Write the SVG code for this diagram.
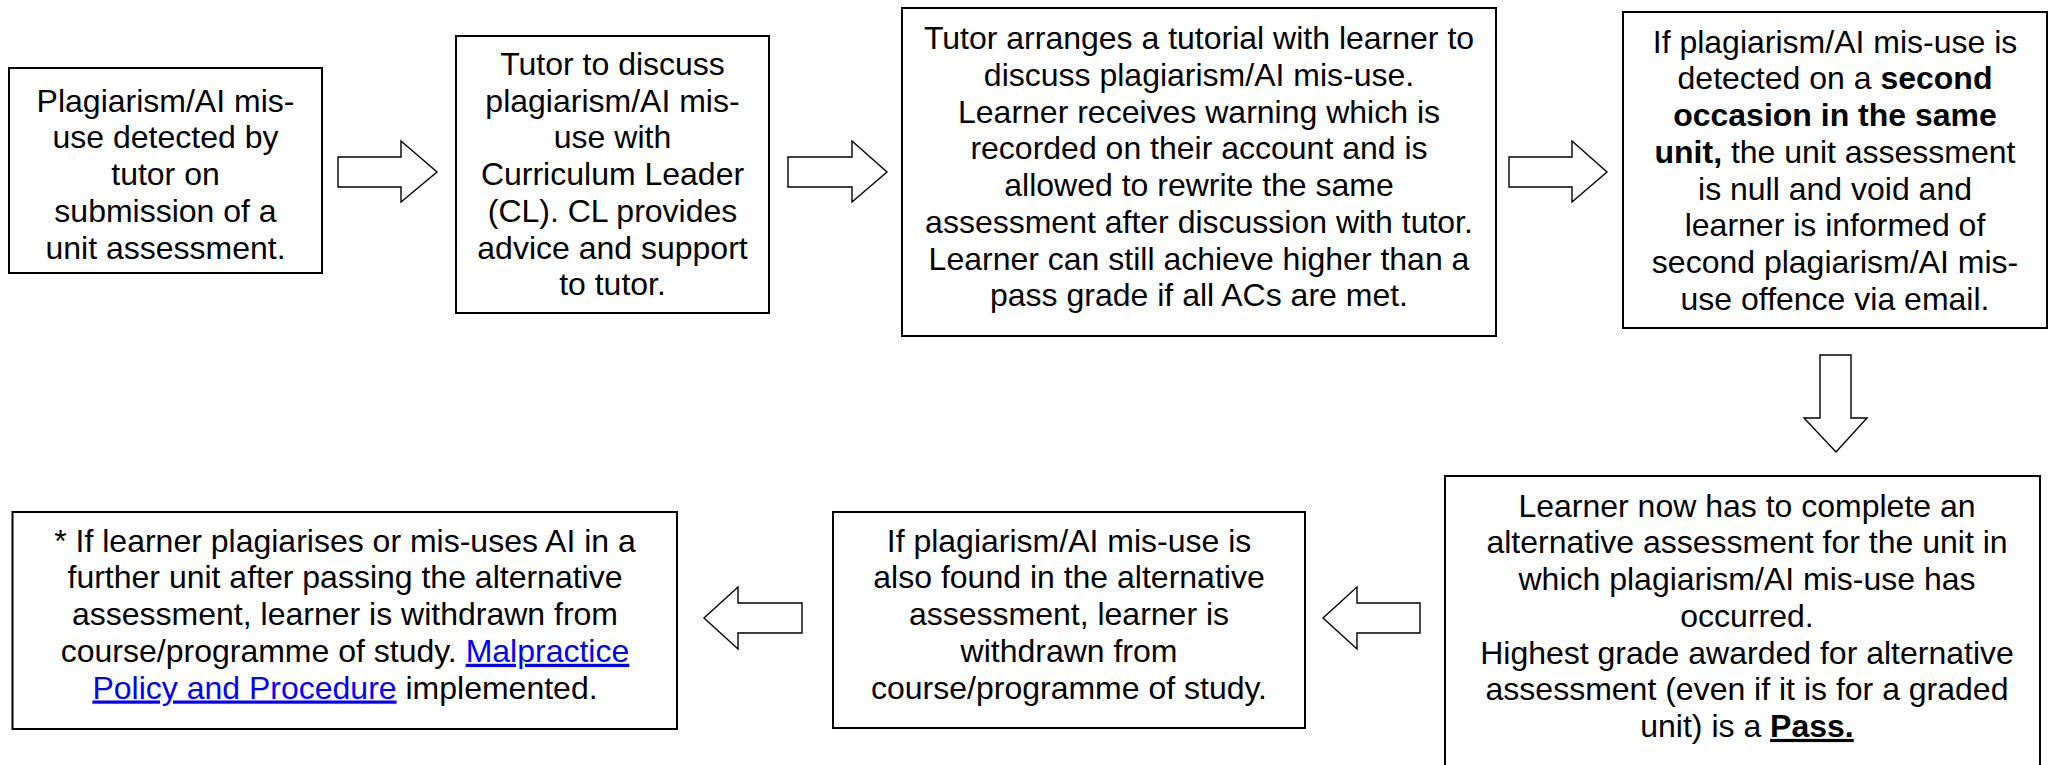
<svg xmlns="http://www.w3.org/2000/svg" width="2053" height="765" viewBox="0 0 2053 765">
<style>
.box{fill:#fff;stroke:#000;stroke-width:2}
.arr{fill:#fff;stroke:#000;stroke-width:1.4;stroke-linejoin:miter}
text{font-family:"Liberation Sans",Arial,sans-serif;font-size:32px;fill:#000;text-anchor:middle}
.b{font-weight:bold}
.u{text-decoration:underline}
.lnk{fill:#0000FF;text-decoration:underline}
</style>
<rect width="2053" height="765" fill="#fff"/>
<g id="connectors">
<path class="arr" d="M338,157 H401 V141 L437,172 L401,202 V187 H338 Z"/>
<path class="arr" d="M788,157 H852 V141 L887,172 L852,202 V187 H788 Z"/>
<path class="arr" d="M1509,157 H1572 V141 L1607,172 L1572,202 V187 H1509 Z"/>
<path class="arr" d="M1820,355 H1851 V418 H1867 L1836,452 L1804,418 H1820 Z"/>
<path class="arr" d="M1420,603 H1357 V587 L1323,618 L1357,649 V633 H1420 Z"/>
<path class="arr" d="M802,603 H738 V587 L704,618 L738,649 V633 H802 Z"/>
</g>
<g id="node1">
<rect class="box" x="9" y="68" width="313" height="205"/>
<text x="165.5" y="111.7">Plagiarism/AI mis-</text>
<text x="165.5" y="148.4">use detected by</text>
<text x="165.5" y="185.1">tutor on</text>
<text x="165.5" y="221.8">submission of a</text>
<text x="165.5" y="258.5">unit assessment.</text>
</g>
<g id="node2">
<rect class="box" x="456" y="36" width="313" height="277"/>
<text x="612.5" y="75">Tutor to discuss</text>
<text x="612.5" y="111.7">plagiarism/AI mis-</text>
<text x="612.5" y="148.4">use with</text>
<text x="612.5" y="185.1">Curriculum Leader</text>
<text x="612.5" y="221.8">(CL). CL provides</text>
<text x="612.5" y="258.5">advice and support</text>
<text x="612.5" y="295.2">to tutor.</text>
</g>
<g id="node3">
<rect class="box" x="902" y="8" width="594" height="328"/>
<text x="1199" y="49.3">Tutor arranges a tutorial with learner to</text>
<text x="1199" y="86">discuss plagiarism/AI mis-use.</text>
<text x="1199" y="122.7">Learner receives warning which is</text>
<text x="1199" y="159.4">recorded on their account and is</text>
<text x="1199" y="196.1">allowed to rewrite the same</text>
<text x="1199" y="232.8">assessment after discussion with tutor.</text>
<text x="1199" y="269.5">Learner can still achieve higher than a</text>
<text x="1199" y="306.2">pass grade if all ACs are met.</text>
</g>
<g id="node4">
<rect class="box" x="1623" y="12" width="424" height="316"/>
<text x="1835" y="52.7">If plagiarism/AI mis-use is</text>
<text x="1835" y="89.4">detected on a <tspan class="b">second</tspan></text>
<text x="1835" y="126.1" class="b">occasion in the same</text>
<text x="1835" y="162.8"><tspan class="b">unit,</tspan> the unit assessment</text>
<text x="1835" y="199.5">is null and void and</text>
<text x="1835" y="236.2">learner is informed of</text>
<text x="1835" y="272.9">second plagiarism/AI mis-</text>
<text x="1835" y="309.6">use offence via email.</text>
</g>
<g id="node5">
<rect class="box" x="1445" y="476" width="595" height="300"/>
<text x="1747" y="516.7">Learner now has to complete an</text>
<text x="1747" y="553.4">alternative assessment for the unit in</text>
<text x="1747" y="590.1">which plagiarism/AI mis-use has</text>
<text x="1747" y="626.8">occurred.</text>
<text x="1747" y="663.5">Highest grade awarded for alternative</text>
<text x="1747" y="700.2">assessment (even if it is for a graded</text>
<text x="1747" y="736.9">unit) is a <tspan class="b u">Pass.</tspan></text>
</g>
<g id="node6">
<rect class="box" x="833" y="512" width="472" height="216"/>
<text x="1069" y="551.7">If plagiarism/AI mis-use is</text>
<text x="1069" y="588.4">also found in the alternative</text>
<text x="1069" y="625.1">assessment, learner is</text>
<text x="1069" y="661.8">withdrawn from</text>
<text x="1069" y="698.5">course/programme of study.</text>
</g>
<g id="node7">
<rect class="box" x="12.5" y="512" width="664.5" height="217"/>
<text x="345" y="551.7">* If learner plagiarises or mis-uses AI in a</text>
<text x="345" y="588.4">further unit after passing the alternative</text>
<text x="345" y="625.1">assessment, learner is withdrawn from</text>
<text x="345" y="661.8">course/programme of study. <tspan class="lnk">Malpractice</tspan></text>
<text x="345" y="698.5"><tspan class="lnk">Policy and Procedure</tspan> implemented.</text>
</g>
</svg>
